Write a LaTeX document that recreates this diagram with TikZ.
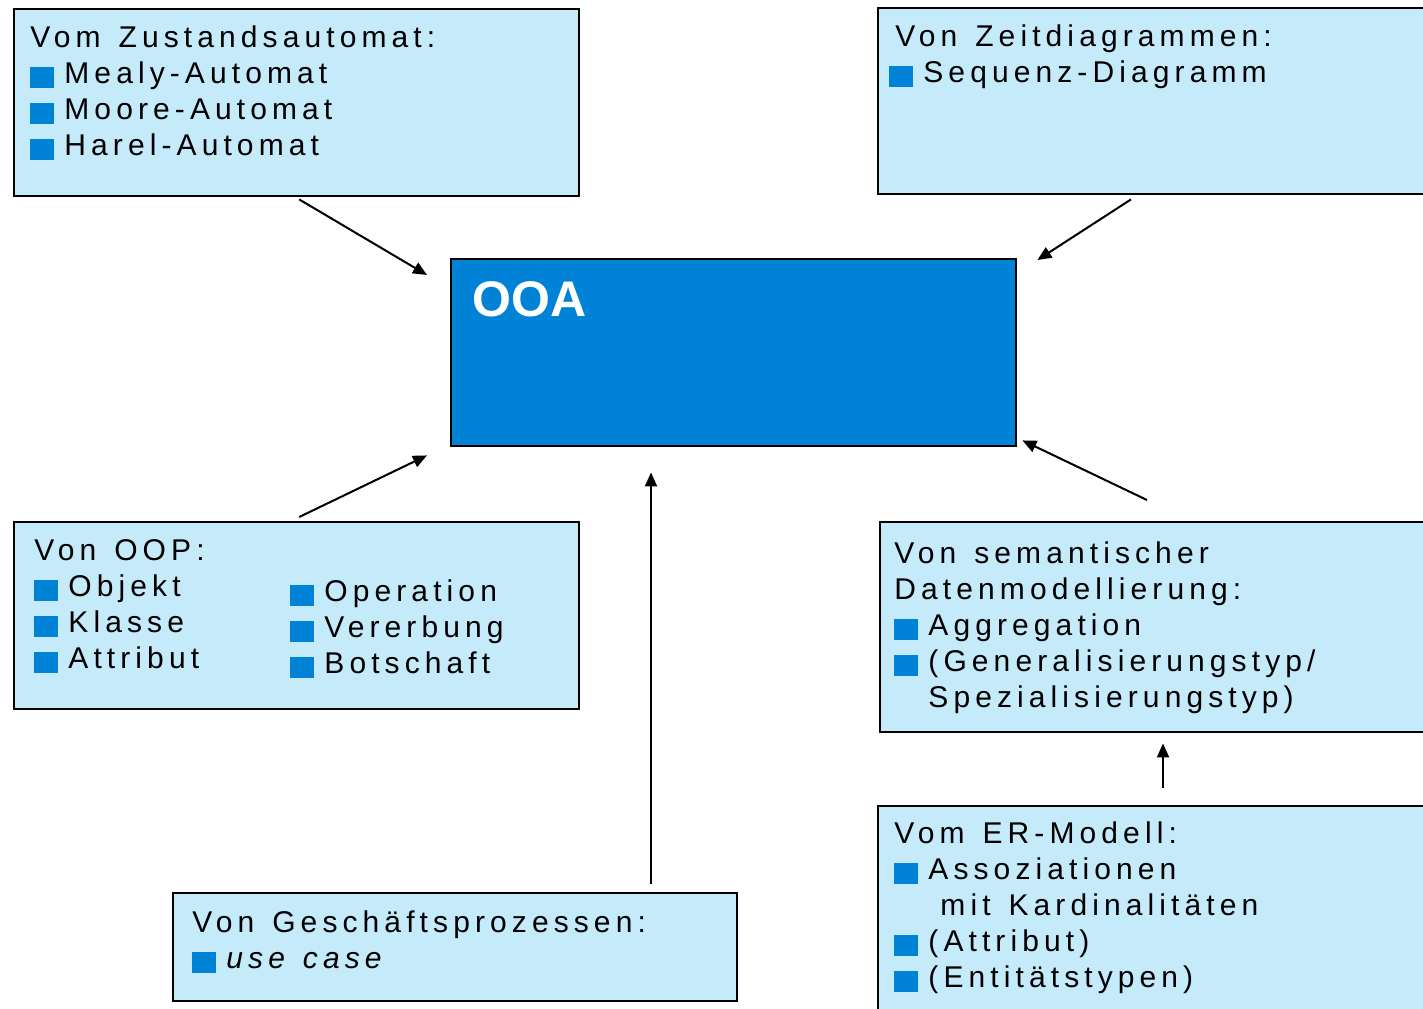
\documentclass[tikz,border=0pt]{standalone}
\usepackage{fontspec}
\setmainfont{Liberation Sans}[LetterSpace=17]
\newfontfamily\ooafont{Liberation Sans}
\usetikzlibrary{arrows.meta}
\definecolor{hellblau}{HTML}{C5EAFA}
\definecolor{ooablau}{HTML}{0082D6}
\newcommand{\punkt}{\textcolor{ooablau}{\rule[-2.5pt]{12pt}{10.5pt}}\hspace{5pt}}
\newcommand{\weit}{\spaceskip=9pt plus 2pt\relax}

\tikzset{
  kasten/.style={draw=black, line width=1.2pt, fill=hellblau, inner sep=0pt, anchor=north west},
  inhalt/.style={anchor=base west, inner sep=0pt, text width=270pt, align=left, font=\fontsize{15}{18}\selectfont, execute at begin node=\weit},
  ooatext/.style={anchor=base west, inner sep=0pt, text=white, font=\ooafont\bfseries\fontsize{25}{30}\selectfont},
  pfeil/.style={-{Triangle[length=7pt,width=6pt]}, line width=1pt},
}

\begin{document}
\begin{tikzpicture}[x=0.5pt,y=-0.5pt]
				\clip (0,0) rectangle (1423,1008);
				
				% Kaesten
				\node[kasten, minimum width=282.5pt, minimum height=93.5pt] (zust) at (13,8) {};
				\node[kasten, minimum width=280pt, minimum height=93pt] (zeit) at (877,7) {};
				\node[kasten, fill=ooablau, minimum width=282.5pt, minimum height=93.5pt] (ooa) at (450,258) {};
				\node[kasten, minimum width=282.5pt, minimum height=93.5pt] (oop) at (13,521) {};
				\node[kasten, minimum width=280pt, minimum height=105pt] (sem) at (879,521) {};
				\node[kasten, minimum width=280pt, minimum height=105pt] (er) at (877,805) {};
				\node[kasten, minimum width=282pt, minimum height=54pt] (gesch) at (172,892) {};
				
				% Texte
				\node[ooatext] (ooatitel) at ([shift={(22,58)}]ooa.north west) {OOA};
				\node[inhalt] (zusttext) at ([shift={(17,39)}]zust.north west)
					{Vom Zustandsautomat:\\ \punkt Mealy-Automat\\ \punkt Moore-Automat\\ \punkt Harel-Automat};
				\node[inhalt] (zeittext) at ([shift={(18,39)}]zeit.north west)
					{Von Zeitdiagrammen:\\ \hspace*{-3pt}\punkt Sequenz-Diagramm};
				\node[inhalt] (ooptext) at ([shift={(21,39)}]oop.north west)
					{Von OOP:\\ \punkt Objekt\\ \punkt Klasse\\ \punkt Attribut};
				\node[inhalt, text width=130pt] (oopzwei) at ([shift={(277,80)}]oop.north west)
					{\punkt Operation\\ \punkt Vererbung\\ \punkt Botschaft};
				\node[inhalt] (semtext) at ([shift={(15,42)}]sem.north west)
					{Von semantischer\\ Datenmodellierung:\\ \punkt Aggregation\\ \punkt (Generalisierungstyp/\\ \hspace*{17pt}Spezialisierungstyp)};
				\node[inhalt] (ertext) at ([shift={(17,38)}]er.north west)
					{Vom ER-Modell:\\ \punkt Assoziationen\\ \hspace*{23pt}mit Kardinalitäten\\ \punkt (Attribut)\\ \punkt (Entitätstypen)};
				\node[inhalt] (geschtext) at ([shift={(20,40)}]gesch.north west)
					{Von Geschäftsprozessen:\\ \punkt\textit{use case}};
				
				% Pfeile
				\draw[pfeil] ([shift={(2.5,2)}]zust.south) -- ([shift={(-23,17)}]ooa.north west);
				\draw[pfeil] ([shift={(254,4)}]zeit.south west) -- ([shift={(20,2)}]ooa.north east);
				\draw[pfeil] ([shift={(2.5,-4)}]oop.north) -- ([shift={(-23,8)}]ooa.south west);
				\draw[pfeil] ([shift={(479,-8)}]gesch.north west) -- ([shift={(201,25)}]ooa.south west);
				\draw[pfeil] ([shift={(268,-21)}]sem.north west) -- ([shift={(5,-7)}]ooa.south east);
				\draw[pfeil] ([shift={(286,-17)}]er.north west) -- ([shift={(284,10)}]sem.south west);
\end{tikzpicture}
\end{document}
